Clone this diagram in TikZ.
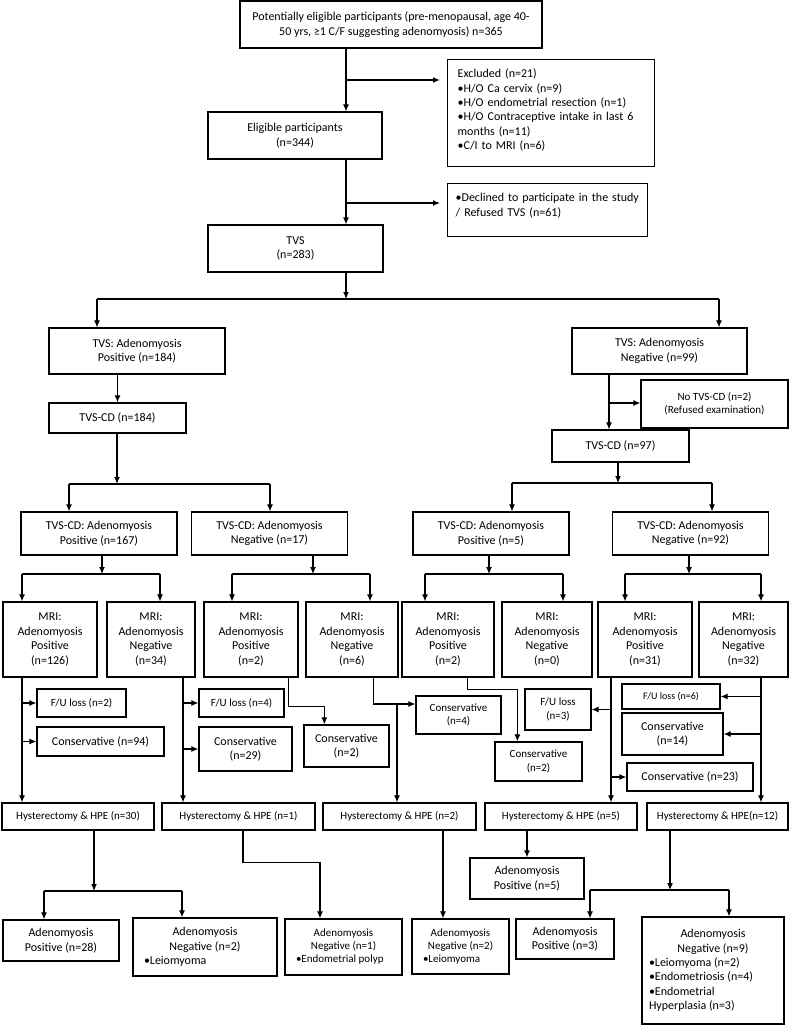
\documentclass[tikz,border=0pt]{standalone}
\usepackage{fontspec}
\setmainfont{Carlito}
\usetikzlibrary{arrows.meta}

\tikzset{
  box/.style={draw, line width=1.3pt, align=center, inner sep=1pt, font=\fontsize{12}{14.4}\selectfont},
  sbox/.style={box, font=\fontsize{11}{13.2}\selectfont},
  xbox/.style={box, font=\fontsize{10}{12}\selectfont},
  lbox/.style={draw, line width=1.3pt, inner sep=0pt},
}

\begin{document}
\begin{tikzpicture}[x=1pt, y=-1pt, >={Latex[length=7pt,width=6pt]}, line width=1.1pt]
\useasboundingbox (0,0) rectangle (789,1026);

\node[box, minimum width=302pt, minimum height=47pt] (pot) at (391,24.5) {Potentially eligible participants (pre-menopausal, age 40-\\50 yrs, ≥1 C/F suggesting adenomyosis) n=365};
\node[box, anchor=north west, align=left, text width=187pt, inner xsep=10pt, inner ysep=0pt, text height=18pt, text depth=89pt] (excl) at (447,59) {Excluded (n=21)\\•H/O Ca cervix (n=9)\\•H/O endometrial resection (n=1)\\•H/O Contraceptive intake in last 6\\months (n=11)\\•C/I to MRI (n=6)};
\node[box, minimum width=174pt, minimum height=47pt] (elig) at (295,135.5) {Eligible participants\\(n=344)};
\node[box, anchor=north west, align=left, text width=184pt, inner xsep=8pt, inner ysep=0pt, text height=18pt, text depth=35pt] (decl) at (447,183) {•Declined to participate in the study\\/ Refused TVS (n=61)};
\node[box, minimum width=175pt, minimum height=47pt] (tvs) at (295.5,248.5) {TVS\\(n=283)};

\node[box, minimum width=176pt, minimum height=46pt] (tvspos) at (137,351) {TVS: Adenomyosis\\Positive (n=184)};
\node[box, minimum width=175pt, minimum height=46pt] (tvsneg) at (659.5,351) {TVS: Adenomyosis\\Negative (n=99)};
\node[box, minimum width=137pt, minimum height=30pt] (cda) at (117.5,418) {TVS-CD (n=184)};
\node[sbox, minimum width=147pt, minimum height=48pt] (nocd) at (714.5,404) {No TVS-CD (n=2)\\(Refused examination)};
\node[box, minimum width=137pt, minimum height=32pt] (cdb) at (620.5,446) {TVS-CD (n=97)};

\foreach \nm/\cx/\res/\k in {cdpa/99/Positive/167, cdna/269.5/Negative/17, cdpb/491/Positive/5, cdnb/690.5/Negative/92}
{
    \node[box, minimum width=156pt, minimum height=43pt] (\nm) at (\cx,533.5) {TVS-CD: Adenomyosis\\\res{} (n=\k)};
}

\foreach \nm/\cx/\w/\res/\k in {ma/50/94/Positive/126, mb/151/88/Negative/34, mc/251/94/Positive/2, md/352/92/Negative/6,
    me/448/92/Positive/2, mf/547/90/Negative/0, mg/645/94/Positive/31, mh/743.5/89/Negative/32}
{
    \node[box, minimum width=\w pt, minimum height=75pt] (\nm) at (\cx,639.5) {MRI:\\Adenomyosis\\\res\\(n=\k)};
}

\node[sbox, minimum width=89pt, minimum height=28pt] (fua) at (81.5,703) {F/U loss (n=2)};
\node[box, minimum width=127pt, minimum height=29pt] (consa) at (100.5,741.5) {Conservative (n=94)};
\node[sbox, minimum width=85pt, minimum height=28pt] (fub) at (241.5,703) {F/U loss (n=4)};
\node[box, minimum width=93pt, minimum height=44pt] (consb) at (245.5,749) {Conservative\\(n=29)};
\node[box, minimum width=85pt, minimum height=42pt] (consc) at (346.5,746) {Conservative\\(n=2)};
\node[sbox, minimum width=85pt, minimum height=38pt] (consd) at (458.5,715) {Conservative\\(n=4)};
\node[sbox, minimum width=87pt, minimum height=39pt] (conse) at (538.5,761.5) {Conservative\\(n=2)};
\node[sbox, minimum width=66pt, minimum height=41pt] (fuc) at (558,709.5) {F/U loss\\(n=3)};
\node[xbox, minimum width=98pt, minimum height=25pt] (fud) at (671,696.5) {F/U loss (n=6)};
\node[box, minimum width=101pt, minimum height=42pt] (consf) at (672.5,734) {Conservative\\(n=14)};
\node[box, minimum width=126pt, minimum height=28pt] (consg) at (690,777) {Conservative (n=23)};

\foreach \nm/\cx/\w/\k in {hya/78/152/ (n=30), hyb/238.5/153/ (n=1), hyc/399.5/153/ (n=2), hyd/561/152/ (n=5), hye/717.5/141/(n=12)}
{
    \node[sbox, minimum width=\w pt, minimum height=27pt] (\nm) at (\cx,816.5) {Hysterectomy \& HPE\k};
}

\node[box, minimum width=116pt, minimum height=41pt] (apa) at (61,940.5) {Adenomyosis\\Positive (n=28)};
\node[lbox, font=\fontsize{12}{14.4}\selectfont, minimum width=144pt, minimum height=58pt] (ana) at (205,947)
    {\parbox{122pt}{\centering Adenomyosis\\Negative (n=2)\par\raggedright •Leiomyoma}};
\node[lbox, font=\fontsize{11}{13}\selectfont, minimum width=117pt, minimum height=56pt] (anb) at (343.5,947)
    {\parbox{95pt}{\centering Adenomyosis\\Negative (n=1)\par\raggedright •Endometrial polyp}};
\node[lbox, font=\fontsize{11}{13}\selectfont, minimum width=97pt, minimum height=55pt] (anc) at (460.5,946.5)
    {\parbox{75pt}{\centering Adenomyosis\\Negative (n=2)\par\raggedright •Leiomyoma}};
\node[box, minimum width=114pt, minimum height=41pt] (apd) at (527,878.5) {Adenomyosis\\Positive (n=5)};
\node[box, minimum width=98pt, minimum height=40pt] (ape) at (565,939) {Adenomyosis\\Positive (n=3)};
\node[lbox, font=\fontsize{12}{14.4}\selectfont, minimum width=142pt, minimum height=107pt] (ane) at (713,970.5)
    {\parbox{128pt}{\centering Adenomyosis\\Negative (n=9)\par\raggedright •Leiomyoma (n=2)\\•Endometriosis (n=4)\\•Endometrial\\Hyperplasia (n=3)}};

% main trunk
\coordinate (trunk) at (346,0);
\coordinate (bex) at (346,80);
\coordinate (bde) at (346,203);
\draw[->] (pot.south -| trunk) -- (elig.north -| trunk);
\draw[->, shorten >=7pt] (bex) -- (bex -| excl.west);
\draw[->] (elig.south -| trunk) -- (tvs.north -| trunk);
\draw[->, shorten >=7pt] (bde) -- (bde -| decl.west);

\draw[->] (tvspos.south -| cda.north) -- (cda.north);
\coordinate (bno) at (609,403);
\draw[->] (tvsneg.south -| bno) -- (bno |- cdb.north);
\draw[->] (bno) -- (bno -| nocd.west);

% splits
\foreach \src/\sx/\by/\bl/\br/\dl/\dr in {tvs/346/299/97/719/tvspos/tvsneg, cda/117/484/69/270/cdpa/cdna, cdb/618/483/512/712/cdpb/cdnb,
    cdpa/102/574/22/160/ma/mb, cdna/313/574/232/370/mc/md, cdpb/489/574/425/563/me/mf, cdnb/689/574/625/761/mg/mh,
    hya/94/891/44/182/apa/ana, hye/670/890/590/729/ape/ane}
{
    \coordinate (j\src) at (\sx,\by);
    \coordinate (l\src) at (\bl,\by);
    \coordinate (r\src) at (\br,\by);
    \draw[->] (\src.south -| j\src) -- (j\src);
    \draw (l\src) -- (r\src);
    \draw[->] (l\src) -- (l\src |- \dl.north);
    \draw[->] (r\src) -- (r\src |- \dr.north);
}

% after MRI
\coordinate (ka) at (22,0);
\draw[->] (ma.south -| ka) -- (ka |- hya.north);
\draw[->] (ka |- fua.west) -- (fua.west);
\draw[->] (ka |- consa.west) -- (consa.west);
\coordinate (kb) at (183,0);
\draw[->] (mb.south -| kb) -- (kb |- hyb.north);
\draw[->] (kb |- fub.west) -- (fub.west);
\draw[->] (kb |- consb.west) -- (consb.west);
\draw[->] ([xshift=-10pt]mc.south east) -- ++(0,29) -| ([xshift=21pt]consc.north west);
\coordinate (kd) at (397,704);
\draw ([xshift=-25pt]md.south east) |- (kd);
\draw[->] (kd) -- (kd -| consd.west);
\draw[->] (kd) -- (kd |- hyc.north);
\draw[->] ([xshift=-27pt]me.south east) -- ++(0,12) -| ([xshift=23pt]conse.north west);
\coordinate (kg) at (611,0);
\draw[->] (mg.south -| kg) -- (kg |- hyd.north);
\draw[->] (kg |- fuc.east) -- (fuc.east);
\draw[->] (kg |- consg.west) -- (consg.west);
\coordinate (kh) at (761,0);
\draw[->] (mh.south -| kh) -- (kh |- hye.north);
\draw[->] (kh |- fud.east) -- (fud.east);
\draw[->] (kh |- consf.east) -- (consf.east);

% after HPE
\draw[->] ([xshift=4.5pt]hyb.south) -- ++(0,32) -| ([xshift=-23.5pt]anb.north);
\draw[->] ([xshift=43.5pt]hyc.south) -- ([xshift=43.5pt]hyc.south |- anc.north);
\draw[->] (hyd.south -| apd.north) -- (apd.north);
\end{tikzpicture}
\end{document}
